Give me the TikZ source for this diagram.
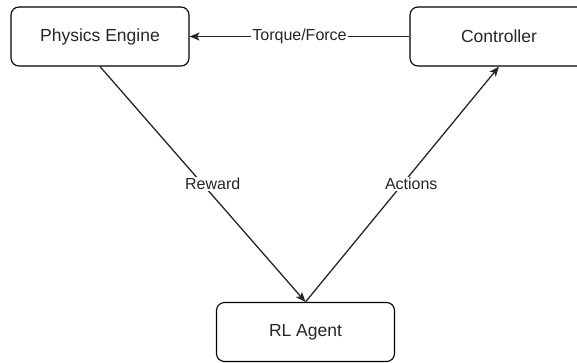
\documentclass[tikz,border=0pt]{standalone}
\usepackage{fontspec}
\setmainfont{Liberation Sans}
\usetikzlibrary{arrows.meta}
\begin{document}
\begin{tikzpicture}[x=1pt,y=-1pt,
  block/.style={draw=black, line width=1.1pt, rounded corners=8pt, fill=white,
    minimum width=178pt, minimum height=59pt, inner sep=0pt,
    font=\fontsize{17.5}{20}\selectfont, text=black!85},
  link/.style={draw=black!85, line width=1.3pt, -{Stealth[length=10pt,width=8pt,inset=2.5pt]}},
  tag/.style={fill=white, inner sep=1pt, font=\fontsize{16}{18}\selectfont, text=black!85}]
  \useasboundingbox (0,0) rectangle (577,362);
  % blocks
  \node[block] (physics) at (100,36.5) {Physics Engine};
  \node[block] (controller) at (499,36.5) {Controller};
  \node[block] (agent) at (305.5,332) {RL Agent};
  % connectors
  \draw[link] (controller.west) -- node[tag] {Torque/Force} (physics.east);
  \draw[link] (physics.south) -- node[tag, pos=0.5, xshift=10pt] {Reward} (agent.north);
  \draw[link] (agent.north) -- node[tag, pos=0.5, xshift=9pt] {Actions} (controller.south);
\end{tikzpicture}
\end{document}
